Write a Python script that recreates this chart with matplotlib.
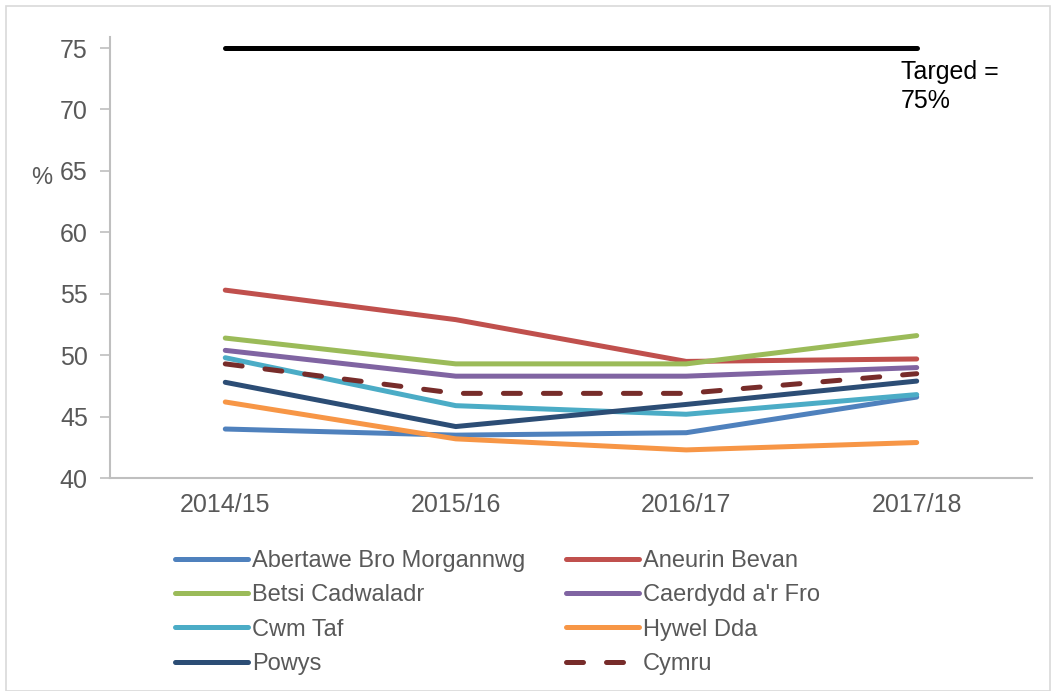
import matplotlib.pyplot as plt
from matplotlib.patches import Rectangle

plt.rcParams["font.family"] = ["Liberation Sans", "DejaVu Sans"]

YEARS = ["2014/15", "2015/16", "2016/17", "2017/18"]

abertawe = [44.0, 43.5, 43.7, 46.6]
aneurin = [55.3, 52.9, 49.5, 49.7]
betsi = [51.4, 49.3, 49.3, 51.6]
caerdydd = [50.4, 48.3, 48.3, 49.0]
cwm_taf = [49.8, 45.9, 45.2, 46.8]
hywel = [46.2, 43.2, 42.3, 42.9]
powys = [47.8, 44.2, 46.0, 47.9]
cymru = [49.3, 46.9, 46.9, 48.5]
TARGET = 75

SERIES = [
    ("Abertawe Bro Morgannwg", abertawe, "#4F81BD", "-"),
    ("Aneurin Bevan", aneurin, "#C0504D", "-"),
    ("Betsi Cadwaladr", betsi, "#9BBB59", "-"),
    ("Caerdydd a'r Fro", caerdydd, "#8064A2", "-"),
    ("Cwm Taf", cwm_taf, "#4BACC6", "-"),
    ("Hywel Dda", hywel, "#F79646", "-"),
    ("Powys", powys, "#2C4D75", "-"),
    ("Cymru", cymru, "#772C2A", "--"),
]

fig = plt.figure(figsize=(10.53, 6.91), dpi=100)
ax = fig.add_axes([0.1045, 0.308, 0.8755, 0.6385])

x = list(range(len(YEARS)))
handles = {}
for name, vals, color, ls in SERIES:
    if ls == "--":
        (h,) = ax.plot(x, vals, color=color, lw=3.6, dashes=(3.4, 4.6),
                       dash_capstyle="round", solid_capstyle="round")
    else:
        (h,) = ax.plot(x, vals, color=color, lw=3.6, solid_capstyle="round")
    handles[name] = h

ax.plot([x[0], x[-1]], [TARGET, TARGET], color="black", lw=3.6,
        solid_capstyle="round")
ax.text(x[-1] - 0.07, TARGET - 1.0, "Targed =\n75%", fontsize=18,
        va="top", ha="left", color="black", linespacing=1.25)

ax.set_xlim(-0.5, 3.5)
ax.set_ylim(40, 75.9)
ax.set_yticks(range(40, 76, 5))
ax.set_xticks(x)
ax.set_xticklabels(YEARS)
ax.tick_params(axis="x", length=0, pad=11, labelsize=18, labelcolor="#595959")
ax.tick_params(axis="y", length=7, width=1.2, color="#BFBFBF", pad=9,
               labelsize=18, labelcolor="#595959")
for s in ["top", "right"]:
    ax.spines[s].set_visible(False)
for s in ["left", "bottom"]:
    ax.spines[s].set_color("#BFBFBF")
    ax.spines[s].set_linewidth(1.5)

fig.text(42 / 1053, 1 - 178 / 691, "%", fontsize=17, color="#595959",
         ha="center", va="center")

order = ["Abertawe Bro Morgannwg", "Betsi Cadwaladr", "Cwm Taf", "Powys",
         "Aneurin Bevan", "Caerdydd a'r Fro", "Hywel Dda", "Cymru"]
leg = fig.legend([handles[n] for n in order], order, ncol=2,
                 loc="upper left", bbox_to_anchor=(175 / 1053, 1 - 550 / 691),
                 frameon=False, fontsize=17, handlelength=3.1,
                 handletextpad=0.17, columnspacing=1.7, labelspacing=0.52,
                 borderpad=0, borderaxespad=0)
for t in leg.get_texts():
    t.set_color("#595959")

fig.patches.append(Rectangle((6 / 1053, 0), 1 - 9 / 1053, 1 - 6 / 691,
                             transform=fig.transFigure, fill=False,
                             edgecolor="#D9D9D9", lw=1.2))

fig.savefig("out.png", dpi=100)
